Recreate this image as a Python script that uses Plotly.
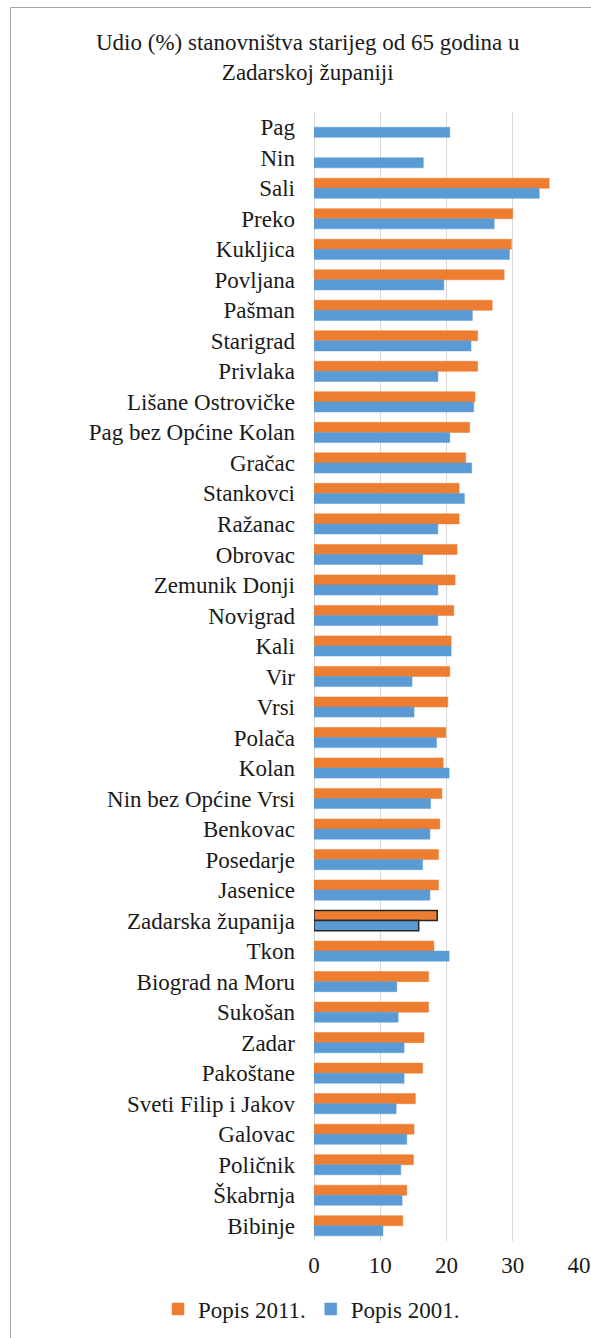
import plotly.graph_objects as go

categories = ["Pag", "Nin", "Sali", "Preko", "Kukljica", "Povljana", "Pašman", "Starigrad",
              "Privlaka", "Lišane Ostrovičke", "Pag bez Općine Kolan", "Gračac", "Stankovci",
              "Ražanac", "Obrovac", "Zemunik Donji", "Novigrad", "Kali", "Vir", "Vrsi", "Polača",
              "Kolan", "Nin bez Općine Vrsi", "Benkovac", "Posedarje", "Jasenice",
              "Zadarska županija", "Tkon", "Biograd na Moru", "Sukošan", "Zadar", "Pakoštane",
              "Sveti Filip i Jakov", "Galovac", "Poličnik", "Škabrnja", "Bibinje"]

popis_2011 = [None, None, 35.5, 30.0, 29.8, 28.7, 26.9, 24.7, 24.7, 24.3, 23.5, 22.9, 21.9,
              21.9, 21.6, 21.3, 21.1, 20.7, 20.5, 20.2, 19.9, 19.5, 19.3, 19.0, 18.8, 18.8,
              18.6, 18.1, 17.3, 17.3, 16.6, 16.4, 15.3, 15.1, 15.0, 14.0, 13.4]

popis_2001 = [20.5, 16.5, 34.0, 27.2, 29.5, 19.6, 23.9, 23.7, 18.7, 24.1, 20.5, 23.8, 22.7,
              18.7, 16.4, 18.7, 18.7, 20.7, 14.8, 15.1, 18.5, 20.4, 17.6, 17.5, 16.4, 17.5,
              15.8, 20.4, 12.5, 12.7, 13.6, 13.6, 12.4, 14.0, 13.1, 13.3, 10.4]

ticks = [0, 10, 20, 30, 40]

ORANGE = "#ED7D31"
BLUE = "#5B9BD5"
FONT = "Liberation Serif, Times New Roman, Tinos, DejaVu Serif, serif"
FS = 23
TXT = "#1a1a1a"

highlight = "Zadarska županija"
line_col_o = ["#262626" if c == highlight else ORANGE for c in categories]
line_col_b = ["#262626" if c == highlight else BLUE for c in categories]
line_w = [1.5 if c == highlight else 0.5 for c in categories]

fig = go.Figure()
fig.add_trace(go.Bar(y=categories, x=popis_2011, orientation="h", name="Popis 2011.",
                     marker=dict(color=ORANGE, line=dict(color=line_col_o, width=line_w))))
fig.add_trace(go.Bar(y=categories, x=popis_2001, orientation="h", name="Popis 2001.",
                     marker=dict(color=BLUE, line=dict(color=line_col_b, width=line_w))))

W, H = 591, 1338
L, R, T, B = 314, 12, 112, 97
pw = W - L - R
ph = H - T - B

def px_x(p):
    return (p - L) / pw

def px_y(p):
    return 1 + (T - p) / ph

fig.update_layout(
    width=W, height=H,
    margin=dict(l=L, r=R, t=T, b=B, pad=0, autoexpand=False),
    paper_bgcolor="white", plot_bgcolor="white",
    barmode="group", bargap=0.34, bargroupgap=0,
    font=dict(family=FONT, size=FS, color=TXT),
    showlegend=True,
    legend=dict(orientation="h", x=px_x(158), y=px_y(1309), xanchor="left", yanchor="middle",
                font=dict(family=FONT, size=FS, color=TXT), itemwidth=30,
                traceorder="normal", bgcolor="rgba(0,0,0,0)"),
    xaxis=dict(range=[0, 40], tickvals=ticks, showgrid=True, gridcolor="#D9D9D9", gridwidth=1,
               zeroline=True, zerolinecolor="#D9D9D9", zerolinewidth=1, showline=False,
               ticks="", ticklabelstandoff=8, tickfont=dict(family=FONT, size=FS, color=TXT),
               automargin=False, fixedrange=True),
    yaxis=dict(autorange="reversed", showgrid=False, showline=False, ticks="",
               ticklabelstandoff=18, tickfont=dict(family=FONT, size=FS, color=TXT),
               automargin=False, fixedrange=True),
    annotations=[dict(text="Udio (%) stanovništva starijeg od 65 godina u<br>Zadarskoj županiji",
                      xref="paper", yref="paper", x=px_x(308), y=px_y(57),
                      xanchor="center", yanchor="middle", showarrow=False,
                      font=dict(family=FONT, size=FS, color=TXT))],
    shapes=[dict(type="rect", xref="paper", yref="paper",
                 x0=px_x(10.5), x1=px_x(700), y0=px_y(7.5), y1=px_y(1500),
                 line=dict(color="#A6A6A6", width=1), fillcolor="rgba(0,0,0,0)", layer="below")],
)

fig.write_html("out.html", config={"displayModeBar": False},
               post_script="document.body.style.margin='0';document.body.style.overflow='hidden';")
